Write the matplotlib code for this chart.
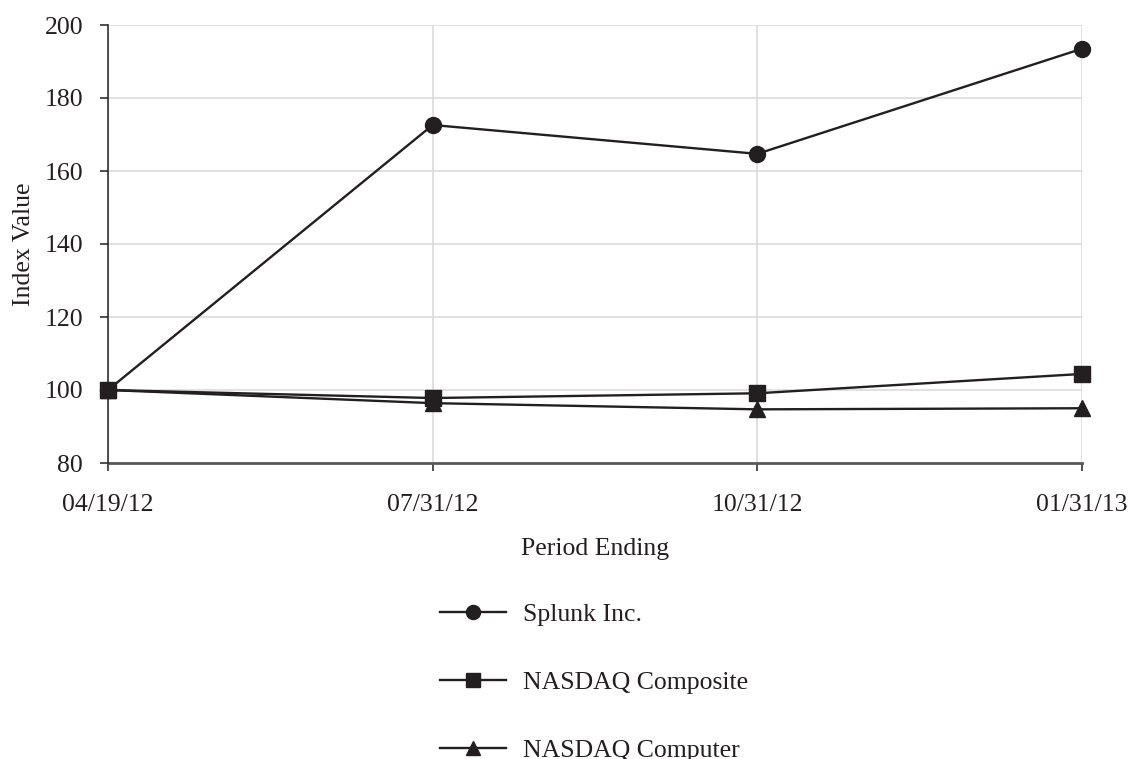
"""Cumulative total return comparison: Splunk vs NASDAQ indices."""
import matplotlib
matplotlib.use("Agg")
import matplotlib.pyplot as plt

PERIODS = ["04/19/12", "07/31/12", "10/31/12", "01/31/13"]
SPLUNK = [100, 172.6, 164.7, 193.5]
NASDAQ_COMPOSITE = [100, 97.8, 99.1, 104.4]
NASDAQ_COMPUTER = [100, 96.4, 94.7, 95.0]

INK = "#231f20"
GRID = "#d9d9d9"

plt.rcParams["font.family"] = ["Liberation Serif", "DejaVu Serif"]
FS = 18.5


def main():
    fig = plt.figure(figsize=(11.3, 7.59), dpi=100)
    ax = fig.add_axes([108 / 1130, 1 - 463 / 759, (1082 - 108) / 1130, (463 - 25) / 759])

    x = list(range(len(PERIODS)))
    series = [("Splunk Inc.", SPLUNK, "o"),
              ("NASDAQ Composite", NASDAQ_COMPOSITE, "s"),
              ("NASDAQ Computer", NASDAQ_COMPUTER, "^")]
    handles = []
    for name, vals, mk in series[::-1]:
        h, = ax.plot(x, vals, color=INK, lw=1.7, marker=mk, markersize=11.5,
                     markerfacecolor=INK, markeredgecolor=INK, label=name,
                     clip_on=False, zorder=3)
        handles.append(h)
    handles = handles[::-1]

    ax.set_xlim(0, 3)
    ax.set_ylim(80, 200)
    ax.set_xticks(x)
    ax.set_xticklabels(PERIODS)
    ax.set_yticks(range(80, 201, 20))
    ax.grid(True, color=GRID, lw=1.1, zorder=0)
    ax.set_axisbelow(True)

    for s in ("top", "right"):
        ax.spines[s].set_visible(False)
    ax.spines["left"].set_color(INK)
    ax.spines["left"].set_linewidth(1.1)
    ax.spines["bottom"].set_color("#595959")
    ax.spines["bottom"].set_linewidth(2)
    ax.spines["bottom"].set_zorder(2)

    ax.tick_params(axis="y", length=6, width=1.1, color=INK, pad=12,
                   labelsize=FS, labelcolor=INK)
    ax.tick_params(axis="x", length=6, width=1.1, color=INK, pad=16,
                   labelsize=FS, labelcolor=INK)

    ax.set_ylabel("Index Value", fontsize=FS, color=INK, labelpad=7)
    ax.set_xlabel("Period Ending", fontsize=FS, color=INK, labelpad=16)

    fig.legend(handles=handles, loc="upper left", bbox_to_anchor=(427 / 1130, 1 - 590 / 759),
               frameon=False, fontsize=FS, handlelength=2.57, handletextpad=0.66,
               labelspacing=1.75, borderpad=0, markerscale=0.88, labelcolor=INK)

    fig.savefig("out.png", dpi=100)
    plt.close(fig)


if __name__ == "__main__":
    main()
